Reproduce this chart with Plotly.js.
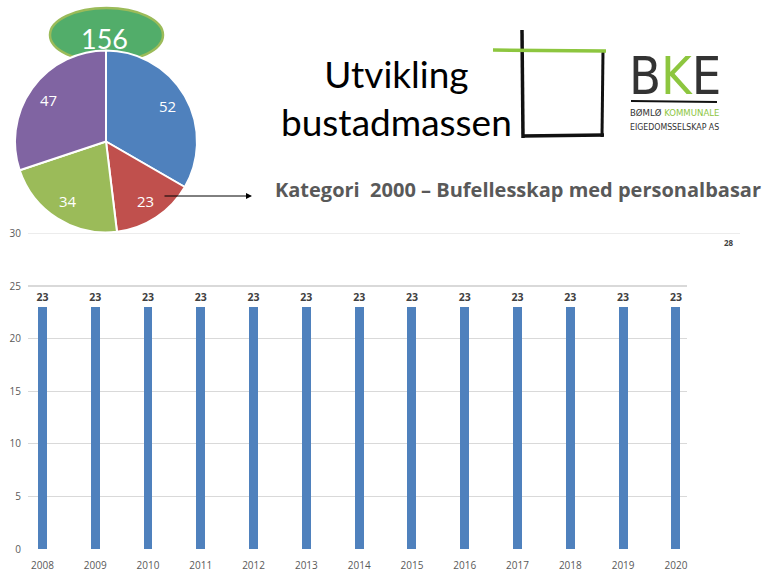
<!DOCTYPE html>
<html>
<head>
<meta charset="utf-8">
<script src="https://cdn.plot.ly/plotly-3.0.1.min.js"></script>
<style>html,body{margin:0;padding:0;background:#fff;}#chart{width:771px;height:572px;}</style>
</head>
<body>
<div id="chart"></div>
<script>
// ---- data ----
const years = ['2008','2009','2010','2011','2012','2013','2014','2015','2016','2017','2018','2019','2020'];
const units = [23,23,23,23,23,23,23,23,23,23,23,23,23];
const pieLabels = ['A','B','C','D'];
const pieValues = [52,23,34,47];
const pieColors = ['#4F81BD','#C0504D','#9BBB59','#8064A2'];
const totalLabel = '156';
const yTicks = [0,5,10,15,20,25,30];

const W = 771, H = 572;
const px = x => x / W;
const py = y => 1 - y / H;

// pie geometry (paper px)
const pieL = 15, pieR = 197, pieT = 50.5, pieB = 232.5;
const pcx = (pieL + pieR) / 2, pcy = (pieT + pieB) / 2, pr = (pieR - pieL) / 2;

const bars = {
  type: 'bar', x: years, y: units,
  width: 0.17,
  marker: {color: '#4F81BD'},
  text: units.map(v => '<b>' + v + '</b>'),
  texttemplate: '%{text}',
  textposition: 'outside',
  constraintext: 'none',
  textfont: {family: '"Open Sans", Lato, sans-serif', size: 10.5, color: '#404040'},
  cliponaxis: false,
  hoverinfo: 'none',
  xaxis: 'x', yaxis: 'y', showlegend: false
};

const pie = {
  type: 'pie', labels: pieLabels, values: pieValues,
  sort: false, direction: 'clockwise', rotation: 0,
  marker: {colors: pieColors, line: {color: '#ffffff', width: 2}},
  textinfo: 'none',
  domain: {x: [px(pieL), px(pieR)], y: [py(pieB), py(pieT)]},
  showlegend: false, hoverinfo: 'none'
};

// slice value labels placed at mid-angle of each slice (derived from the values)
const total = pieValues.reduce((a, b) => a + b, 0);
let acc = 0;
const sliceLabels = pieValues.map(v => {
  const mid = (acc + v / 2) / total * 2 * Math.PI;
  acc += v;
  const r = pr * 0.78;
  return {xref: 'paper', yref: 'paper',
    x: px(pcx + r * Math.sin(mid)), y: py(pcy - r * Math.cos(mid)),
    text: String(v), showarrow: false, xanchor: 'center', yanchor: 'middle',
    font: {family: '"Open Sans", Lato, sans-serif', size: 15, color: '#ffffff'}};
});

const shapes = [
  {type: 'circle', xref: 'paper', yref: 'paper', layer: 'below',
   x0: px(50), x1: px(163), y0: py(62), y1: py(8),
   fillcolor: '#52AD6A', line: {color: '#9BBB59', width: 2.5}},
  {type: 'line', xref: 'paper', yref: 'y', x0: px(28), x1: px(740), y0: 30, y1: 30,
   line: {color: '#D9D9D9', width: 1.2}, layer: 'below'},
  {type: 'line', xref: 'paper', yref: 'paper', x0: px(522), x1: px(523), y0: py(30), y1: py(138),
   line: {color: '#111', width: 3.5}},
  {type: 'line', xref: 'paper', yref: 'paper', x0: px(522), x1: px(604), y0: py(136), y1: py(135),
   line: {color: '#111', width: 3.5}},
  {type: 'line', xref: 'paper', yref: 'paper', x0: px(603), x1: px(602), y0: py(51), y1: py(137),
   line: {color: '#111', width: 3}},
  {type: 'line', xref: 'paper', yref: 'paper', x0: px(493), x1: px(606), y0: py(50), y1: py(51),
   line: {color: '#8DC63F', width: 3.5}},
  {type: 'line', xref: 'paper', yref: 'paper', x0: px(631), x1: px(717), y0: py(101), y1: py(102),
   line: {color: '#111', width: 2}}
];

const annotations = sliceLabels.concat([
  {xref: 'paper', yref: 'paper', x: px(105), y: py(38), text: totalLabel, showarrow: false,
   font: {family: 'Lato, "Open Sans", sans-serif', size: 27, color: '#ffffff'}, xanchor: 'center', yanchor: 'middle'},
  {xref: 'paper', yref: 'paper', x: px(252), y: py(196), ax: -89, ay: 0, text: '', showarrow: true,
   arrowhead: 2, arrowsize: 1.2, arrowwidth: 1, arrowcolor: '#000'},
  {xref: 'paper', yref: 'paper', x: px(397), y: py(97), text: 'Utvikling<br>bustadmassen', showarrow: false,
   align: 'center', font: {family: 'Lato, "Open Sans", sans-serif', size: 37, color: '#000'}, xanchor: 'center', yanchor: 'middle'},
  {xref: 'paper', yref: 'paper', x: px(675), y: py(76), text: 'B<span style="color:#8DC63F">K</span>E', showarrow: false,
   font: {family: '"Liberation Sans Narrow", "DejaVu Sans Condensed", sans-serif', size: 52, color: '#333333'}, xanchor: 'center', yanchor: 'middle'},
  {xref: 'paper', yref: 'paper', x: px(674), y: py(112), text: 'BØMLØ <span style="color:#8DC63F">KOMMUNALE</span>', showarrow: false,
   font: {family: '"Liberation Sans Narrow", "DejaVu Sans Condensed", sans-serif', size: 9.5, color: '#333333'}, xanchor: 'center', yanchor: 'middle'},
  {xref: 'paper', yref: 'paper', x: px(674), y: py(127), text: 'EIGEDOMSSELSKAP AS', showarrow: false,
   font: {family: '"Liberation Sans Narrow", "DejaVu Sans Condensed", sans-serif', size: 8.7, color: '#333333'}, xanchor: 'center', yanchor: 'middle'},
  {xref: 'paper', yref: 'paper', x: px(518), y: py(189), text: '<b>Kategori  2000 – Bufellesskap med personalbasar</b>', showarrow: false,
   font: {family: '"Open Sans", Lato, sans-serif', size: 20, color: '#595959'}, xanchor: 'center', yanchor: 'middle'},
  {xref: 'paper', yref: 'paper', x: px(729), y: py(242), text: '<b>28</b>', showarrow: false,
   font: {family: '"Open Sans", Lato, sans-serif', size: 8, color: '#404040'}, xanchor: 'center', yanchor: 'middle'}
]);

const layout = {
  width: W, height: H,
  margin: {l: 0, r: 0, t: 0, b: 0},
  paper_bgcolor: '#ffffff', plot_bgcolor: 'rgba(0,0,0,0)',
  font: {family: '"Open Sans", Lato, sans-serif'},
  xaxis: {type: 'category', domain: [px(28), px(687)], range: [-0.273, 12.21],
    showgrid: false, zeroline: false, showline: false, ticks: '',
    ticklabelstandoff: 9,
    tickfont: {size: 10, color: '#595959'}, fixedrange: true},
  yaxis: {domain: [py(549), py(233.4)], range: [0, 30], tickvals: yTicks,
    showgrid: true, gridcolor: '#D9D9D9', gridwidth: 1.2, zeroline: false, showline: false, ticks: '',
    ticklabelstandoff: 6,
    tickfont: {size: 10, color: '#595959'}, fixedrange: true},
  shapes: shapes,
  annotations: annotations,
  bargap: 0
};

Plotly.newPlot('chart', [bars, pie], layout, {displayModeBar: false, staticPlot: true});
</script>
</body>
</html>
